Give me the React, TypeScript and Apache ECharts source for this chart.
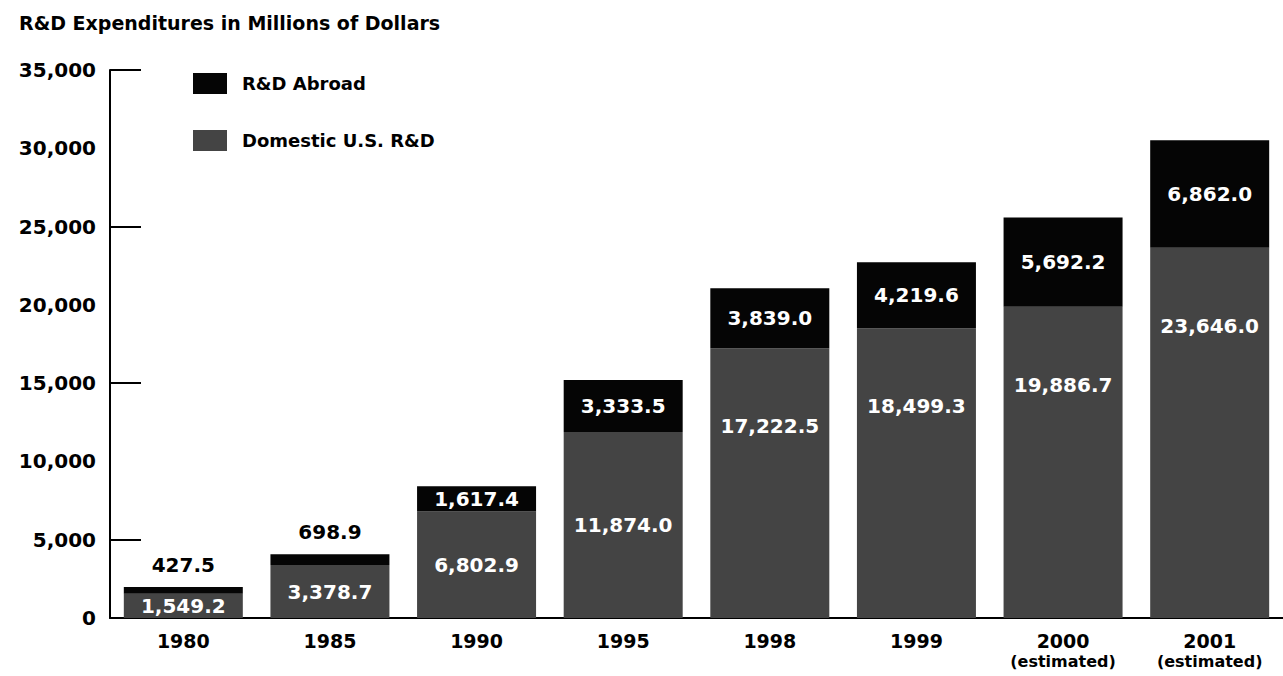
import React, { useEffect, useRef } from "react";
import * as echarts from "echarts";

const years = ["1980", "1985", "1990", "1995", "1998", "1999", "2000", "2001"];
const estimated = [false, false, false, false, false, false, true, true];
const domestic = [1549.2, 3378.7, 6802.9, 11874.0, 17222.5, 18499.3, 19886.7, 23646.0];
const abroad = [427.5, 698.9, 1617.4, 3333.5, 3839.0, 4219.6, 5692.2, 6862.0];
const yTicks = [0, 5000, 10000, 15000, 20000, 25000, 30000, 35000];
const tickMarks = [5000, 15000, 25000, 35000];

const FONT = "DejaVu Sans";
const fmt = (v: number) =>
  v.toLocaleString("en-US", { minimumFractionDigits: 1, maximumFractionDigits: 1 });

export default function App() {
  const ref = useRef<HTMLDivElement>(null);
  useEffect(() => {
    if (!ref.current) return;
    const chart = echarts.init(ref.current, null, { renderer: "svg" });
    const domColor = "#444444";
    const abrColor = "#050505";
    chart.setOption({
      animation: false,
      backgroundColor: "#ffffff",
      title: {
        text: "R&D Expenditures in Millions of Dollars",
        left: 14,
        top: 8,
        textStyle: { fontFamily: FONT, fontWeight: "bold", fontSize: 19, color: "#000" },
      },
      legend: {
        orient: "vertical",
        left: 188,
        top: 68,
        itemWidth: 34,
        itemHeight: 21,
        itemGap: 36,
        icon: "rect",
        data: ["R&D Abroad", "Domestic U.S. R&D"],
        textStyle: {
          fontFamily: FONT,
          fontWeight: "bold",
          fontSize: 18,
          color: "#000",
          padding: [0, 0, 0, 10],
        },
      },
      grid: { left: 110, top: 70, width: 1181, height: 548 },
      xAxis: {
        type: "category",
        data: years,
        axisLine: { lineStyle: { color: "#000", width: 2 } },
        axisTick: { show: false },
        axisLabel: {
          margin: 12,
          interval: 0,
          formatter: (v: string, i: number) =>
            estimated[i] ? `{y|${v}}\n{e|(estimated)}` : `{y|${v}}`,
          rich: {
            y: { fontFamily: FONT, fontWeight: "bold", fontSize: 19, color: "#000", lineHeight: 21 },
            e: { fontFamily: FONT, fontWeight: "bold", fontSize: 16, color: "#000", lineHeight: 20 },
          },
        },
      },
      yAxis: {
        type: "value",
        min: 0,
        max: 35000,
        interval: 5000,
        splitLine: { show: false },
        axisLine: { show: true, lineStyle: { color: "#000", width: 2 } },
        axisTick: {
          show: true,
          inside: true,
          length: 31,
          customValues: tickMarks,
          lineStyle: { color: "#000", width: 2 },
        },
        axisLabel: {
          margin: 14,
          customValues: yTicks,
          formatter: (v: number) => v.toLocaleString("en-US"),
          fontFamily: FONT,
          fontWeight: "bold",
          fontSize: 20,
          color: "#000",
        },
      },
      series: [
        {
          name: "Domestic U.S. R&D",
          type: "bar",
          stack: "rd",
          barWidth: 119,
          itemStyle: { color: domColor },
          data: domestic.map((v) => ({
            value: v,
            label:
              v < 12500
                ? { position: "inside" }
                : { position: "insideTop", distance: 68 },
          })),
          label: {
            show: true,
            formatter: (p: any) => fmt(p.value),
            fontFamily: FONT,
            fontWeight: "bold",
            fontSize: 20,
            color: "#fff",
          },
        },
        {
          name: "R&D Abroad",
          type: "bar",
          stack: "rd",
          barWidth: 119,
          itemStyle: { color: abrColor },
          data: abroad.map((v) => ({
            value: v,
            label:
              v < 1000
                ? { position: "top", color: "#000", distance: 12 }
                : { position: "inside", color: "#fff" },
          })),
          label: {
            show: true,
            formatter: (p: any) => fmt(p.value),
            fontFamily: FONT,
            fontWeight: "bold",
            fontSize: 20,
          },
        },
      ],
    });
    return () => chart.dispose();
  }, []);
  return (
    <div
      ref={ref}
      style={{ position: "absolute", left: 0, top: 0, width: 1283, height: 676 }}
    />
  );
}
